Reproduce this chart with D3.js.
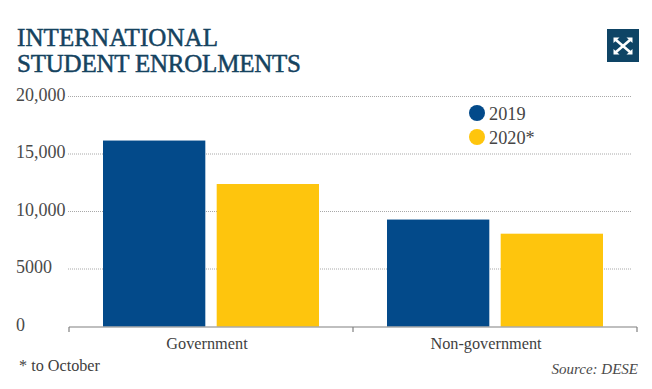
<!DOCTYPE html>
<html><head><meta charset="utf-8">
<script src="https://cdn.jsdelivr.net/npm/d3@7"></script>
<style>
html,body{margin:0;padding:0;background:#fff;overflow:hidden}
svg{display:block}
text{font-family:"Liberation Serif",serif}
</style></head><body>
<script>
const categories = ["Government", "Non-government"];
const seriesNames = ["2019", "2020*"];
const values2019 = [16170, 9300];
const values2020 = [12390, 8070];
const yTicks = [0, 5000, 10000, 15000, 20000];
const yTickLabels = ["0", "5000", "10,000", "15,000", "20,000"];
const titleLines = ["INTERNATIONAL", "STUDENT ENROLMENTS"];
const titleWidths = [201, 284];
const categoryLabelShift = [-4, -9];
const colors = ["#034a8a", "#fec50d"];

const W = 652, H = 389;
const svg = d3.select("body").append("svg").attr("width", W).attr("height", H);
const y = d3.scaleLinear().domain([0, 20000]).range([326.5, 96.5]);
const x = d3.scaleBand().domain(categories).range([69, 637]);
const x1 = d3.scaleBand().domain(seriesNames).range([34, 250]).paddingInner(0.1);

// title
svg.append("g").selectAll("text").data(titleLines).join("text")
  .attr("x", 17).attr("y", (d, i) => 46 + i * 26)
  .attr("font-size", 25).attr("fill", "#15435f").attr("stroke", "#15435f").attr("stroke-width", 0.5)
  .attr("textLength", (d, i) => titleWidths[i]).attr("lengthAdjust", "spacing")
  .text(d => d);

// grid
svg.append("g").selectAll("line").data(yTicks.slice(1)).join("line")
  .attr("x1", 68).attr("x2", 631)
  .attr("y1", d => y(d)).attr("y2", d => y(d))
  .attr("stroke", "#a8a8a8").attr("stroke-width", 1).attr("stroke-dasharray", "1 1");

// y labels
svg.append("g").selectAll("text").data(yTicks).join("text")
  .attr("x", 16).attr("y", d => y(d) + 4)
  .attr("font-size", 18).attr("fill", "#4a4a4a")
  .text((d, i) => yTickLabels[i]);

// bars
const rows = categories.map((c, i) => ({c, vals: [values2019[i], values2020[i]]}));
const groups = svg.append("g").selectAll("g").data(rows).join("g")
  .attr("transform", d => `translate(${x(d.c)},0)`);
groups.selectAll("rect").data(d => d.vals.map((v, j) => ({v, s: seriesNames[j], j}))).join("rect")
  .attr("x", d => x1(d.s)).attr("width", x1.bandwidth())
  .attr("y", d => y(d.v)).attr("height", d => y(0) - y(d.v))
  .attr("fill", d => colors[d.j]);

// x axis
const axisG = svg.append("g").attr("transform", "translate(0,327)");
axisG.append("line").attr("x1", 69).attr("x2", 637).attr("stroke", "#808080").attr("stroke-width", 1.2);
axisG.selectAll("line.t").data([69, x(categories[1]), 637]).join("line").attr("class", "t")
  .attr("x1", d => d).attr("x2", d => d).attr("y1", 0).attr("y2", 5)
  .attr("stroke", "#808080").attr("stroke-width", 1.2);

// x labels
svg.append("g").selectAll("text").data(categories).join("text")
  .attr("x", (d, i) => x(d) + x.bandwidth() / 2 + categoryLabelShift[i]).attr("y", 349)
  .attr("text-anchor", "middle").attr("font-size", 16.3).attr("fill", "#3f3f3f")
  .text(d => d);

// legend
const legend = svg.append("g").selectAll("g").data(seriesNames).join("g")
  .attr("transform", (d, i) => `translate(477,${113 + i * 24})`);
legend.append("circle").attr("r", 8).attr("fill", (d, i) => colors[i]);
legend.append("text").attr("x", 12).attr("y", 7).attr("font-size", 18.3).attr("fill", "#454545").text(d => d);

// notes
svg.append("text").attr("x", 19).attr("y", 371).attr("font-size", 16.2).attr("fill", "#3f3f3f").text("* to October");
svg.append("text").attr("x", 638).attr("y", 374).attr("text-anchor", "end")
  .attr("font-size", 15).attr("font-style", "italic").attr("fill", "#4a4a4a").text("Source: DESE");

// expand icon
const icon = svg.append("g").attr("transform", "translate(623,46)");
icon.append("rect").attr("x", -16).attr("y", -17).attr("width", 32).attr("height", 33).attr("fill", "#0e4465");
const arms = icon.append("g").attr("stroke", "#fff").attr("stroke-width", 2.6).attr("fill", "none");
arms.append("line").attr("x1", -7).attr("y1", -6).attr("x2", 7).attr("y2", 6);
arms.append("line").attr("x1", 7).attr("y1", -6).attr("x2", -7).attr("y2", 6);
[[-1,-1],[1,-1],[1,1],[-1,1]].forEach(([a,b]) => {
  icon.append("path").attr("fill", "#fff")
    .attr("d", d3.line()([[a*9.5,b*8.5],[a*3.5,b*8.5],[a*9.5,b*3]]));
});
</script>
</body></html>
